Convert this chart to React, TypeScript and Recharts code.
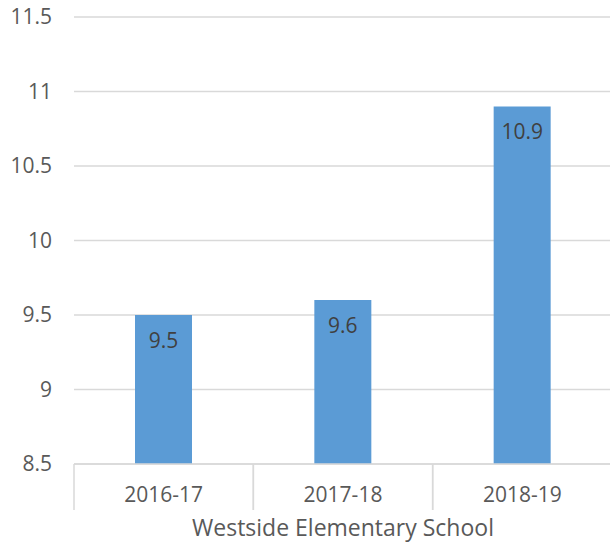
import React from 'react'
import {BarChart, Bar, XAxis, YAxis, CartesianGrid, LabelList} from 'recharts'

const years = ['2016-17', '2017-18', '2018-19']
const values = [9.5, 9.6, 10.9]
const yTicks = [8.5, 9, 9.5, 10, 10.5, 11, 11.5]

const data = years.map((name, i) => ({name, value: values[i]}))

const W = 610
const H = 548
const Y_W = 74
const M_RIGHT = -2
const HALF_BAND = (W - Y_W - M_RIGHT) / years.length / 2
const FONT = '"Open Sans", "Noto Sans", sans-serif'
const TXT = '#595959'
const GRID = '#d9d9d9'

const YearTick = (props: any) => {
  const {x, y, payload} = props
  return (
    <g>
      <line x1={x - HALF_BAND} x2={x - HALF_BAND} y1={y} y2={y + 46} stroke={GRID} strokeWidth={1.5} />
      <line x1={x + HALF_BAND} x2={x + HALF_BAND} y1={y} y2={y + 46} stroke={GRID} strokeWidth={1.5} />
      <text x={x} y={y + 38} textAnchor="middle" fill={TXT} fontSize={21} fontFamily={FONT}>
        {payload.value}
      </text>
    </g>
  )
}

export default function App() {
  return (
    <div style={{position: 'absolute', left: 0, top: 0, background: '#fff', overflow: 'hidden'}}>
      <BarChart width={W} height={H} data={data} margin={{top: 17, right: M_RIGHT, bottom: 0, left: 0}}>
        <CartesianGrid vertical={false} stroke={GRID} strokeWidth={1.5} />
        <XAxis
          dataKey="name"
          tickLine={false}
          tickSize={0}
          tickMargin={0}
          interval={0}
          height={84}
          axisLine={{stroke: GRID, strokeWidth: 1.5}}
          tick={<YearTick />}
          label={{
            value: 'Westside Elementary School',
            position: 'insideBottom',
            offset: 12,
            fill: TXT,
            fontSize: 23,
            fontFamily: FONT,
          }}
        />
        <YAxis
          width={Y_W}
          domain={[8.5, 11.5]}
          ticks={yTicks}
          interval={0}
          axisLine={false}
          tickLine={false}
          tickSize={0}
          tickMargin={22}
          tick={{fill: TXT, fontSize: 21, fontFamily: FONT}}
        />
        <Bar dataKey="value" fill="#5B9BD5" barSize={57} isAnimationActive={false}>
          <LabelList
            dataKey="value"
            position="insideTop"
            offset={18}
            fill="#404040"
            fontSize={21}
            fontFamily={FONT}
          />
        </Bar>
      </BarChart>
    </div>
  )
}
